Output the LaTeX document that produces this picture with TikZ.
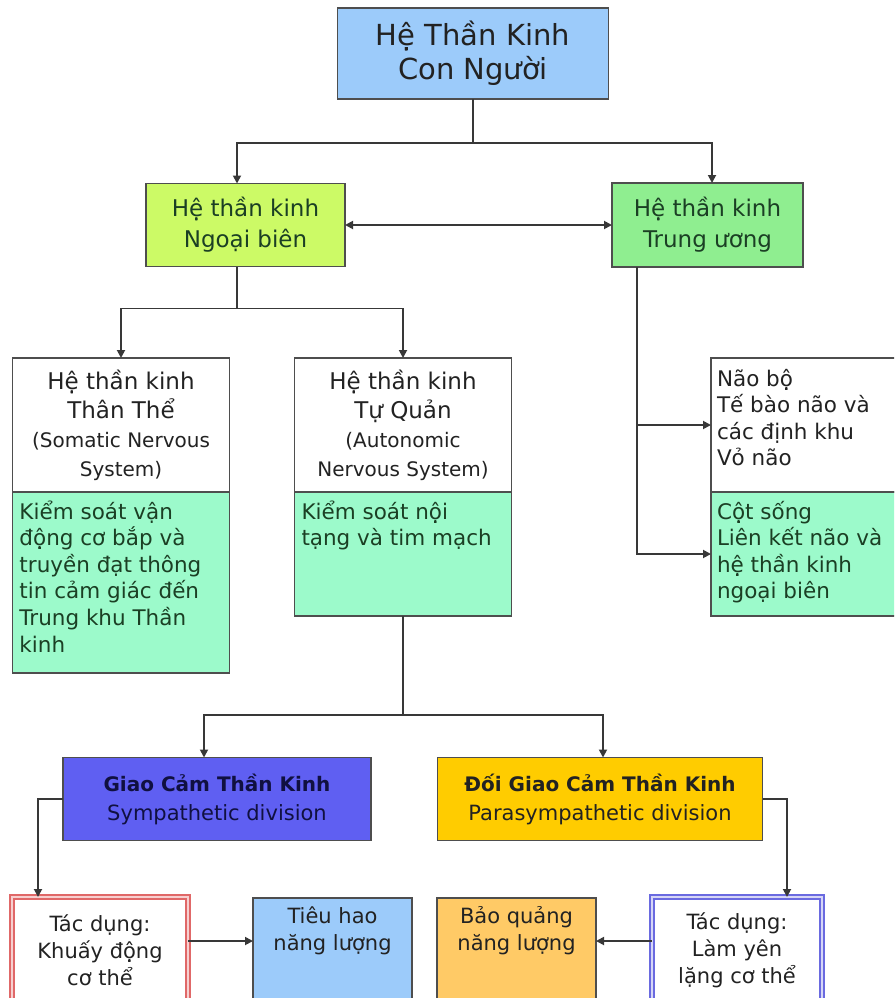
\documentclass[tikz,border=0pt]{standalone}
\usepackage{fontspec}
\setmainfont{DejaVu Sans}
\usetikzlibrary{arrows.meta,calc}

\definecolor{boxline}{HTML}{4E4E4E}
\definecolor{edge}{HTML}{383838}
\definecolor{ink}{HTML}{222222}
\definecolor{greenink}{HTML}{1B3F24}
\definecolor{skyblue}{HTML}{9CCBFA}
\definecolor{limeg}{HTML}{CCFA66}
\definecolor{leafg}{HTML}{8FEE90}
\definecolor{mint}{HTML}{9CFACB}
\definecolor{violetb}{HTML}{5F5FF2}
\definecolor{navyink}{HTML}{101040}
\definecolor{amber}{HTML}{FFCC00}
\definecolor{peach}{HTML}{FFCA66}
\definecolor{redline}{HTML}{E06868}
\definecolor{redgap}{HTML}{F7D0D0}
\definecolor{blueline}{HTML}{6A6AE0}
\definecolor{bluegap}{HTML}{D6D6F6}

% font size / leading in pt
\newcommand\fsz[2]{\fontsize{#1pt}{#2pt}\selectfont}
% fixed-size, top-aligned text block
\newcommand\tpbox[3]{\parbox[c][#2][t]{#1}{#3}}

\begin{document}
\begin{tikzpicture}[x=1pt,y=-1pt,
  box/.style={draw=boxline, line width=1.8pt, inner sep=0pt, outer sep=0pt, align=center, text=ink},
  headbox/.style={box, fill=white, minimum width=217pt, minimum height=134pt, font=\fsz{23}{29}},
  bodybox/.style={box, fill=mint, inner xsep=7pt, text=greenink, font=\fsz{21.5}{26.6}, anchor=north},
  effbox/.style={box, minimum height=106pt, font=\fsz{21}{27}, text=ink},
  conn/.style={draw=edge, line width=1.8pt},
  arr/.style={conn, -{Triangle[length=8pt,width=8pt]}},
  darr/.style={conn, {Triangle[length=8pt,width=8pt]}-{Triangle[length=8pt,width=8pt]}},
]
\path[use as bounding box, clip] (0,0) rectangle (894,998);

% --- top level ---
\node[box, fill=skyblue, minimum width=271pt, minimum height=91pt, font=\fsz{29}{34}, text=ink]
  (root) at (473,53.5) {Hệ Thần Kinh\\Con Người};

\node[box, fill=limeg, minimum width=199pt, minimum height=83pt, font=\fsz{23}{31}, text=greenink]
  (ngoai) at (245.5,225) {Hệ thần kinh\\Ngoại biên};
\node[box, fill=leafg, minimum width=191pt, minimum height=84pt, font=\fsz{23}{31}, text=greenink]
  (trung) at (707.5,225) {Hệ thần kinh\\Trung ương};

% --- peripheral branches ---
\node[headbox] (thanh) at (121,425)
  {Hệ thần kinh\\Thân Thể\\{\fsz{20}{29}(Somatic Nervous}\\{\fsz{20}{29}System)}};
\node[bodybox] (thanb) at (thanh.south)
  {\tpbox{203pt}{181pt}{\raggedright\rule{0pt}{27pt}Kiểm soát vận\\động cơ bắp và\\truyền đạt thông\\tin cảm giác đến\\Trung khu Thần\\kinh}};

\node[headbox] (tuh) at (403,425)
  {Hệ thần kinh\\Tự Quản\\{\fsz{20}{29}(Autonomic}\\{\fsz{20}{29}Nervous System)}};
\node[bodybox] (tub) at (tuh.south)
  {\tpbox{203pt}{124pt}{\raggedright\rule{0pt}{27pt}Kiểm soát nội\\tạng và tim mạch}};

% --- central branches ---
\node[box, fill=white, minimum width=194pt, minimum height=134pt, inner xsep=6pt, font=\fsz{21.5}{26.6}]
  (nao) at (808,425)
  {\tpbox{182pt}{134pt}{\raggedright\rule{0pt}{28pt}Não bộ\\Tế bào não và\\các định khu\\Vỏ não}};
\node[bodybox, inner xsep=6pt] (cot) at (nao.south)
  {\tpbox{182pt}{124pt}{\raggedright\rule{0pt}{27pt}Cột sống\\Liên kết não và\\hệ thần kinh\\ngoại biên}};

% --- autonomic divisions ---
\node[box, fill=violetb, minimum width=308pt, minimum height=83pt, font=\fsz{21}{29}, text=navyink]
  (giao) at (217,799) {{\bfseries\fsz{20}{29}Giao Cảm Thần Kinh}\\Sympathetic division};
\node[box, fill=amber, minimum width=325pt, minimum height=83pt, font=\fsz{21}{29}, text=ink]
  (doi) at (600,799) {{\bfseries\fsz{20}{29}Đối Giao Cảm Thần Kinh}\\Parasympathetic division};

% --- effects ---
\node[effbox, fill=white, draw=redline, double=redgap, double distance=2.5pt, line width=1.4pt,
      minimum width=176pt] (tdl) at (100,950) {Tác dụng:\\Khuấy động\\cơ thể};
\node[effbox, fill=skyblue, minimum width=159pt] (tieu) at (332.5,951)
  {\tpbox{159pt}{106pt}{\centering\rule{0pt}{25pt}Tiêu hao\\năng lượng}};
\node[effbox, fill=peach, minimum width=159pt] (bao) at (516.5,951)
  {\tpbox{159pt}{106pt}{\centering\rule{0pt}{25pt}Bảo quảng\\năng lượng}};
\node[effbox, fill=white, draw=blueline, double=bluegap, double distance=2.5pt, line width=1.4pt,
      minimum width=170pt] (tdr) at (737,950) {Tác dụng:\\Làm yên\\lặng cơ thể};

% --- connectors ---
\draw[conn] (root.south) -- ++(0,44) coordinate (rj);
\draw[arr] (rj) -| ([xshift=-8.5pt]ngoai.north);
\draw[arr] (rj) -| ([xshift=4.5pt]trung.north);
\draw[darr] (ngoai.east) -- (ngoai.east -| trung.west);

\draw[conn] ([xshift=-8.5pt]ngoai.south) -- ++(0,42) coordinate (nj);
\draw[arr] (nj) -| (thanh.north);
\draw[arr] (nj) -| (tuh.north);

\coordinate (ts) at ([xshift=-70.5pt]trung.south);
\draw[arr] (ts) |- (cot.west);
\draw[arr] (ts |- nao.west) -- (nao.west);

\draw[conn] (tub.south) -- ++(0,99) coordinate (tj);
\draw[arr] (tj) -| ([xshift=-13pt]giao.north);
\draw[arr] (tj) -| ([xshift=3pt]doi.north);

\draw[arr] (giao.west) -| ([xshift=-62pt]tdl.north);
\draw[arr] (doi.east) -| ([xshift=50pt]tdr.north);

\draw[arr] ([yshift=9pt]tdl.east) -- ([yshift=9pt]tdl.east -| tieu.west);
\draw[arr] ([yshift=9pt]tdr.west) -- ([yshift=9pt]tdr.west -| bao.east);
\end{tikzpicture}
\end{document}
